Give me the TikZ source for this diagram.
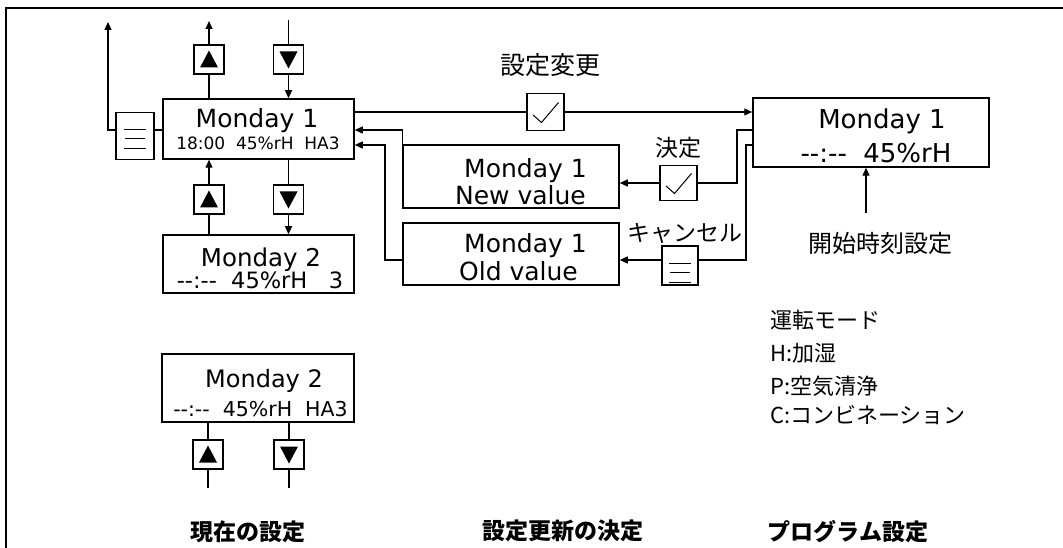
\documentclass[tikz,border=0pt]{standalone}
\usepackage{fontspec}
\setmainfont{DejaVu Sans}
\newfontfamily\jp{Noto Sans CJK JP}
\usetikzlibrary{arrows.meta}
\begin{document}
\begin{tikzpicture}[x=1pt,y=-1pt,
  box/.style={draw,line width=1.5pt,inner sep=0pt,fill=white},
  btn/.style={draw,line width=1.3pt,inner sep=0pt,fill=white,minimum width=30pt,minimum height=29pt},
  upbtn/.style={btn,path picture={\fill[black] (path picture bounding box.center) ++(0,-9) -- ++(9,17) -- ++(-18,0) -- cycle;}},
  dnbtn/.style={btn,path picture={\fill[black] (path picture bounding box.center) ++(0,9) -- ++(9,-17) -- ++(-18,0) -- cycle;}},
  menubtn/.style={draw,line width=1.3pt,inner sep=0pt,fill=white,
    path picture={\draw[line width=1pt] (path picture bounding box.north) ++(-11,17) -- ++(22,0);
                  \draw[line width=1pt] (path picture bounding box.north) ++(-10,26.5) -- ++(20,0);
                  \draw[line width=1pt] (path picture bounding box.north) ++(-11,36) -- ++(22,0);}},
  chkbtn/.style={draw,line width=1.3pt,inner sep=0pt,fill=white,
    path picture={\draw[line width=1pt] (path picture bounding box.center) ++(-12.5,3) -- ++(8.5,7.5) -- ++(17,-20);}},
  conn/.style={line width=1.2pt},
  arr/.style={conn,-{Triangle[length=8pt,width=7pt]}},
  txt/.style={inner sep=0pt,anchor=base},
  jtxt/.style={inner sep=0pt,font=\jp\fontsize{#1}{#1}\selectfont},
  jbold/.style={inner sep=0pt,font=\jp\bfseries\fontsize{23}{23}\selectfont}
]
\useasboundingbox (0,0) rectangle (1063,548);
% frame
\draw[line width=2pt] (6,548) -- (6,8) -- (1063,8);

% left column boxes
\node[box,minimum width=191pt,minimum height=60pt] (m1) at (258.5,129) {};
\node[box,minimum width=191pt,minimum height=58pt] (m2) at (258.5,264) {};
\node[box,minimum width=192pt,minimum height=68pt] (m3) at (258,388) {};

\node[txt,font=\fontsize{25}{25}\selectfont] (m1a) at (257,128) {Monday 1};
\node[txt,font=\fontsize{17}{17}\selectfont] (m1b) at (258,150) {18:00\ \ 45\%rH\ \ HA3};
\node[txt,font=\fontsize{24.5}{25}\selectfont] (m2a) at (261,266) {Monday 2};
\node[txt,font=\fontsize{22.5}{22}\selectfont] (m2b) at (260,288) {-{}-:-{}-\ \ 45\%rH\ \ \ 3};
\node[txt,font=\fontsize{24}{24}\selectfont] (m3a) at (264,387) {Monday 2};
\node[txt,font=\fontsize{20.5}{20}\selectfont] (m3b) at (260.5,416) {-{}-:-{}-\ \ 45\%rH\ \ HA3};

% buttons
\node[upbtn] (u1) at (209,59.5) {};
\node[dnbtn] (d1) at (288.5,59.5) {};
\node[upbtn] (u2) at (209,199.5) {};
\node[dnbtn] (d2) at (288.5,199.5) {};
\node[upbtn] (u3) at (208,454.5) {};
\node[dnbtn] (d3) at (289,454.5) {};
\node[menubtn,minimum width=38pt,minimum height=47pt] (mb1) at (135,136) {};

\coordinate (upEnd) at (209,21);
\coordinate (dnStart) at (288.5,20);
\coordinate (menuEnd) at (108,22);
\coordinate (u3End) at (208,488);
\coordinate (d3End) at (289,488);

\draw[conn] (m1.north -| u1) -- (u1.south);
\draw[arr] (u1.north) -- (upEnd);
\draw[conn] (dnStart) -- (d1.north);
\draw[arr] (d1.south) -- (m1.north -| d1);
\draw[conn] (m2.north -| u2) -- (u2.south);
\draw[arr] (u2.north) -- (m1.south -| u2);
\draw[conn] (m1.south -| d2) -- (d2.north);
\draw[arr] (d2.south) -- (m2.north -| d2);
\draw[conn] (m3.south -| u3) -- (u3.north);
\draw[conn] (u3.south) -- (u3End);
\draw[conn] (m3.south -| d3) -- (d3.north);
\draw[conn] (d3.south) -- (d3End);
\draw[conn] (m1.west |- 0,130) -- (mb1.east |- 0,130);
\draw[arr] (mb1.west |- 0,130) -| (menuEnd);

% middle
\node[box,minimum width=216pt,minimum height=63pt] (nv) at (511,176.5) {};
\node[box,minimum width=216pt,minimum height=62pt] (ov) at (511,254) {};
\node[txt,font=\fontsize{25}{25}\selectfont] (nva) at (525.5,178) {Monday 1};
\node[txt,font=\fontsize{25}{25}\selectfont] (nvb) at (520.5,205) {New value};
\node[txt,font=\fontsize{25}{25}\selectfont] (ova) at (525.5,253) {Monday 1};
\node[txt,font=\fontsize{25}{25}\selectfont] (ovb) at (518.5,280) {Old value};

\node[chkbtn,minimum width=37pt,minimum height=37pt] (cb1) at (545.5,112) {};
\node[chkbtn,minimum width=37pt,minimum height=35pt] (cb2) at (678.5,183) {};
\node[menubtn,minimum width=36pt,minimum height=39pt] (mb2) at (680,265.5) {};

\node[jtxt=25] (l1) at (550,65) {設定変更};
\node[jtxt=23] (l2) at (678,148) {決定};
\node[jtxt=23] (l3) at (685,233) {キャンセル};

% right box
\node[box,minimum width=236pt,minimum height=69pt] (pb) at (871,132.5) {};
\node[txt,font=\fontsize{26}{26}\selectfont] (pba) at (882,129) {Monday 1};
\node[txt,font=\fontsize{26}{26}\selectfont] (pbb) at (876,163) {-{}-:-{}-\ \ 45\%rH};
\node[jtxt=24] (l4) at (880,243) {開始時刻設定};
\coordinate (startArr) at (866,213);
\draw[arr] (startArr) -- (pb.south -| startArr);

% connectors middle
\draw[conn] (m1.east |- 0,112) -- (cb1.west);
\draw[arr] (cb1.east) -- (pb.west |- 0,112);
\draw[arr] (nv.north west) -- (nv.north west |- 0,130) -- (m1.east |- 0,130);
\draw[arr] (ov.west |- 0,260) -- (385,260) -- (385,145) -- (m1.east |- 0,145);
\draw[arr] (cb2.west) -- (nv.east |- cb2.west);
\draw[conn] (cb2.east) -- (737,183) -- (737,130) -- (pb.west |- 0,130);
\draw[arr] (mb2.west |- 0,260) -- (ov.east |- 0,260);
\draw[conn] (mb2.east |- 0,260) -- (746,260) -- (746,145) -- (pb.west |- 0,145);

% legend
\node[jtxt=22,anchor=west] (g1) at (770,320) {運転モード};
\node[jtxt=22,anchor=west] (g2) at (770,353) {H:加湿};
\node[jtxt=22,anchor=west] (g3) at (770,386) {P:空気清浄};
\node[jtxt=22,anchor=west] (g4) at (770,415) {C:コンビネーション};

% bottom titles
\node[jbold] (t1) at (248,532) {現在の設定};
\node[jbold] (t2) at (563,531) {設定更新の決定};
\node[jbold] (t3) at (848,532) {プログラム設定};
\end{tikzpicture}
\end{document}
